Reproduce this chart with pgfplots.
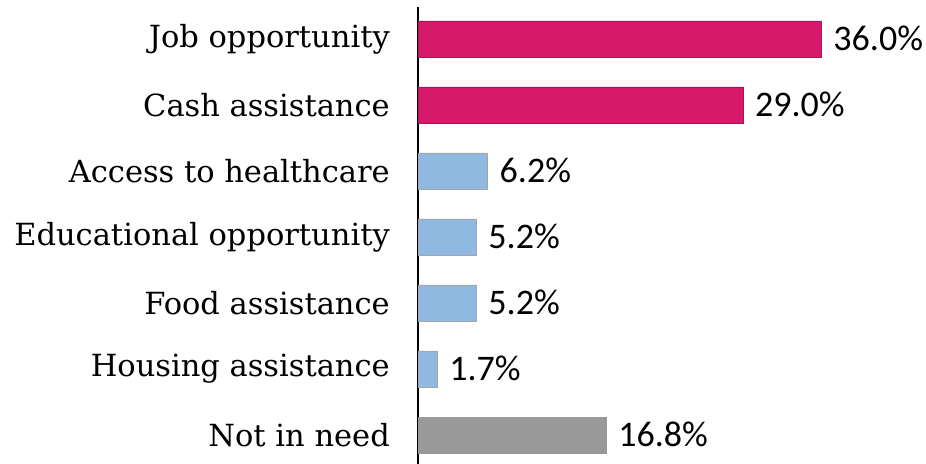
\documentclass[border=0pt]{standalone}
\usepackage{pgfplots}
\pgfplotsset{compat=1.18}
\usepackage{fontspec}
\setmainfont{DejaVu Serif}
\newfontfamily\valfont{Carlito}

\definecolor{jobpink}{RGB}{214, 25, 104}
\definecolor{needblue}{RGB}{143, 185, 225}
\definecolor{needgray}{RGB}{153, 153, 153}

\begin{document}
\begin{tikzpicture}[x=1bp,y=1bp]
  \path[use as bounding box] (0,0) rectangle (926,464);
  \begin{axis}[
    at={(418bp,0bp)}, anchor=south west,
    scale only axis,
    width=448bp, height=457bp,
    xmin=0, xmax=40,
    ymin=-0.44, ymax=6.485,
    xbar, bar width=36bp, bar shift=0pt,
    axis lines*=left,
    x axis line style={draw=none},
    y axis line style={line width=1.5bp, black},
    xtick=\empty,
    ytick={0,...,6},
    yticklabels={Not in need, Housing assistance, Food assistance,
      Educational opportunity, Access to healthcare, Cash assistance,
      Job opportunity},
    major tick length=0pt,
    yticklabel style={font=\fontsize{30.5bp}{34bp}\selectfont, inner sep=0pt, xshift=-28bp},
    nodes near coords={\pgfmathprintnumber[fixed,fixed zerofill,precision=1,assume math mode=true]{\pgfplotspointmeta}\%},
    nodes near coords style={font=\valfont\fontsize{36bp}{40bp}\selectfont,
      anchor=west, inner sep=0pt, xshift=12bp, yshift=1bp, black},
    clip=false,
  ]
  \addplot[fill=jobpink, draw=jobpink!80!black, line width=0.5bp]
    coordinates {(36.0,6) (29.0,5)};
  \addplot[fill=needblue, draw=gray!70, line width=0.5bp]
    coordinates {(6.2,4) (5.2,3) (5.2,2) (1.7,1)};
  \addplot[fill=needgray, draw=needgray, line width=0.5bp]
    coordinates {(16.8,0)};
  \end{axis}
\end{tikzpicture}
\end{document}
